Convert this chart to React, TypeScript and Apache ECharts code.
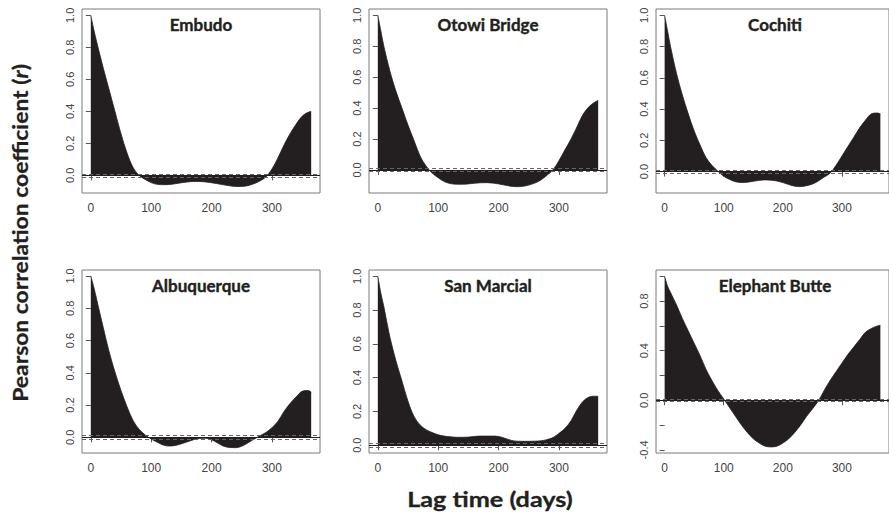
import React, { useEffect, useRef } from "react";
import * as echarts from "echarts";

// ---------- data ----------
const LAG_DAYS = [0, 5, 10, 20, 30, 40, 50, 60, 70, 80, 90, 100, 110, 120, 130, 140, 150, 160, 170, 180, 190, 200, 210, 220, 230, 240, 250, 260, 270, 280, 290, 300, 310, 320, 330, 340, 350, 360, 365];

const STATIONS = ["Embudo", "Otowi Bridge", "Cochiti", "Albuquerque", "San Marcial", "Elephant Butte"];

const EMBUDO = [1.0, 0.91, 0.83, 0.68, 0.54, 0.40, 0.26, 0.14, 0.05, 0.0, -0.025, -0.045, -0.056, -0.058, -0.057, -0.052, -0.046, -0.041, -0.038, -0.038, -0.041, -0.046, -0.052, -0.059, -0.065, -0.069, -0.069, -0.064, -0.052, -0.035, -0.01, 0.04, 0.11, 0.19, 0.26, 0.32, 0.37, 0.395, 0.40];
const OTOWI = [1.0, 0.90, 0.80, 0.64, 0.51, 0.40, 0.29, 0.19, 0.09, 0.025, -0.02, -0.05, -0.075, -0.088, -0.092, -0.092, -0.09, -0.086, -0.083, -0.082, -0.085, -0.09, -0.098, -0.105, -0.108, -0.106, -0.098, -0.085, -0.065, -0.035, 0.0, 0.06, 0.13, 0.20, 0.28, 0.36, 0.41, 0.44, 0.45];
const COCHITI = [1.0, 0.90, 0.80, 0.63, 0.49, 0.37, 0.26, 0.17, 0.09, 0.04, 0.003, -0.03, -0.05, -0.065, -0.07, -0.068, -0.062, -0.056, -0.053, -0.055, -0.06, -0.07, -0.083, -0.093, -0.096, -0.09, -0.08, -0.06, -0.035, -0.01, 0.04, 0.10, 0.16, 0.22, 0.28, 0.33, 0.37, 0.375, 0.37];
const ALBUQUERQUE = [1.0, 0.93, 0.85, 0.69, 0.535, 0.405, 0.29, 0.19, 0.105, 0.05, 0.015, -0.01, -0.03, -0.048, -0.054, -0.05, -0.04, -0.028, -0.015, -0.007, -0.006, -0.015, -0.035, -0.055, -0.063, -0.064, -0.055, -0.035, -0.012, 0.01, 0.03, 0.06, 0.10, 0.16, 0.21, 0.25, 0.285, 0.29, 0.28];
const SAN_MARCIAL = [1.0, 0.90, 0.82, 0.64, 0.50, 0.38, 0.26, 0.17, 0.12, 0.092, 0.075, 0.062, 0.054, 0.05, 0.047, 0.047, 0.048, 0.052, 0.054, 0.054, 0.054, 0.052, 0.042, 0.03, 0.024, 0.023, 0.023, 0.024, 0.026, 0.033, 0.045, 0.07, 0.10, 0.145, 0.21, 0.26, 0.285, 0.29, 0.29];
const ELEPHANT_BUTTE = [1.0, 0.92, 0.87, 0.77, 0.66, 0.56, 0.46, 0.36, 0.25, 0.16, 0.08, 0.01, -0.06, -0.13, -0.20, -0.26, -0.31, -0.345, -0.37, -0.376, -0.37, -0.345, -0.31, -0.26, -0.20, -0.13, -0.07, -0.005, 0.08, 0.16, 0.23, 0.30, 0.37, 0.43, 0.49, 0.55, 0.58, 0.60, 0.605];

const SERIES_VALUES = [EMBUDO, OTOWI, COCHITI, ALBUQUERQUE, SAN_MARCIAL, ELEPHANT_BUTTE];

// axis ranges (R style, 4% padding) and ticks
const X_MIN = -14.6;
const X_MAX = 379.6;
const X_TICKS = [0, 100, 200, 300];
const Y_MIN = [-0.11, -0.149, -0.137, -0.097, -0.046, -0.425];
const Y_MAX = [1.04, 1.041, 1.041, 1.037, 1.037, 1.051];
const Y_TICKS_STD = [0, 0.2, 0.4, 0.6, 0.8, 1.0];
const Y_TICKS_EB = [-0.4, -0.2, 0, 0.2, 0.4, 0.6, 0.8, 1.0];
const Y_LABELS_EB = [-0.4, 0, 0.4, 0.8];
const CONF_LIMIT = 0.011;

// ---------- layout ----------
const COL_LEFT = [82, 369, 656];
const ROW_TOP = [9, 270];
const BOX_W = 238;
const BOX_H = [184, 183];

const INK = "#231f20";

export default function App() {
  const ref = useRef<HTMLDivElement>(null);

  useEffect(() => {
    if (!ref.current) return;
    const chart = echarts.init(ref.current, undefined, { renderer: "svg" });

    const grids: any[] = [];
    const xAxes: any[] = [];
    const yAxes: any[] = [];
    const series: any[] = [];
    const graphics: any[] = [];

    STATIONS.forEach((name, i) => {
      const r = Math.floor(i / 3);
      const c = i % 3;
      const left = COL_LEFT[c];
      const top = ROW_TOP[r];
      const h = BOX_H[r];
      grids.push({
        left,
        top,
        width: BOX_W,
        height: h,
        show: true,
        borderColor: "#7a7a7a",
        borderWidth: 1,
        backgroundColor: "transparent",
        containLabel: false,
      });
      xAxes.push({
        type: "value",
        gridIndex: i,
        min: X_MIN,
        max: X_MAX,
        axisLine: { show: false },
        splitLine: { show: false },
        axisTick: {
          show: true,
          inside: false,
          length: 5,
          customValues: X_TICKS,
          lineStyle: { color: "#555", width: 1 },
        },
        axisLabel: {
          show: true,
          customValues: X_TICKS,
          margin: 9,
          color: "#444",
          fontFamily: "Liberation Sans, Arial, sans-serif",
          fontSize: 12,
        },
      });
      const isEB = i === 5;
      yAxes.push({
        type: "value",
        gridIndex: i,
        min: Y_MIN[i],
        max: Y_MAX[i],
        axisLine: { show: false },
        splitLine: { show: false },
        axisTick: {
          show: true,
          inside: false,
          length: 5,
          customValues: isEB ? Y_TICKS_EB : Y_TICKS_STD,
          lineStyle: { color: "#555", width: 1 },
        },
        axisLabel: {
          show: true,
          customValues: isEB ? Y_LABELS_EB : Y_TICKS_STD,
          rotate: 90,
          margin: 7,
          color: "#444",
          fontFamily: "Liberation Sans, Arial, sans-serif",
          fontSize: 11,
          formatter: (v: number) => v.toFixed(1),
        },
      });
      series.push({
        type: "line",
        xAxisIndex: i,
        yAxisIndex: i,
        data: LAG_DAYS.map((d, j) => [d, SERIES_VALUES[i][j]]),
        symbol: "none",
        showSymbol: false,
        smooth: 0.35,
        lineStyle: { color: INK, width: 0.8 },
        areaStyle: { color: INK, opacity: 1, origin: 0 },
        silent: true,
        markLine: {
          silent: true,
          symbol: "none",
          label: { show: false },
          data: [
            { yAxis: 0, lineStyle: { color: INK, type: "solid", width: 1 } },
            { yAxis: CONF_LIMIT, lineStyle: { color: "#666", type: [4, 3], width: 1 } },
            { yAxis: -CONF_LIMIT, lineStyle: { color: "#666", type: [4, 3], width: 1 } },
          ],
        },
      });
      graphics.push({
        type: "text",
        x: left + BOX_W / 2,
        y: top + 15,
        style: {
          text: name,
          fontFamily: "Lato",
          fontWeight: "bold",
          fontSize: 17,
          fill: INK,
          stroke: INK,
          lineWidth: 0.4,
          align: "center",
          verticalAlign: "middle",
        },
      });
    });

    graphics.push({
      type: "text",
      x: 20,
      y: 233,
      rotation: Math.PI / 2,
      scaleX: 1.09,
      style: {
        text: "Pearson correlation coefficient ({i|r})",
        fontFamily: "Lato",
        fontWeight: "bold",
        fontSize: 21,
        fill: INK,
        stroke: INK,
        lineWidth: 0.3,
        align: "center",
        verticalAlign: "middle",
        rich: {
          i: { fontFamily: "Lato", fontWeight: "bold", fontStyle: "italic", fontSize: 21, fill: INK, stroke: INK, lineWidth: 0.3 },
        },
      },
    });
    graphics.push({
      type: "text",
      x: 490,
      y: 499,
      scaleX: 1.2,
      style: {
        text: "Lag time (days)",
        fontFamily: "Lato",
        fontWeight: "bold",
        fontSize: 21,
        fill: INK,
        stroke: INK,
        lineWidth: 0.3,
        align: "center",
        verticalAlign: "middle",
      },
    });

    chart.setOption({
      animation: false,
      backgroundColor: "#ffffff",
      grid: grids,
      xAxis: xAxes,
      yAxis: yAxes,
      series,
      graphic: graphics,
    });

    return () => chart.dispose();
  }, []);

  return (
    <div
      ref={ref}
      style={{ position: "fixed", left: 0, top: 0, width: 889, height: 514 }}
    />
  );
}
